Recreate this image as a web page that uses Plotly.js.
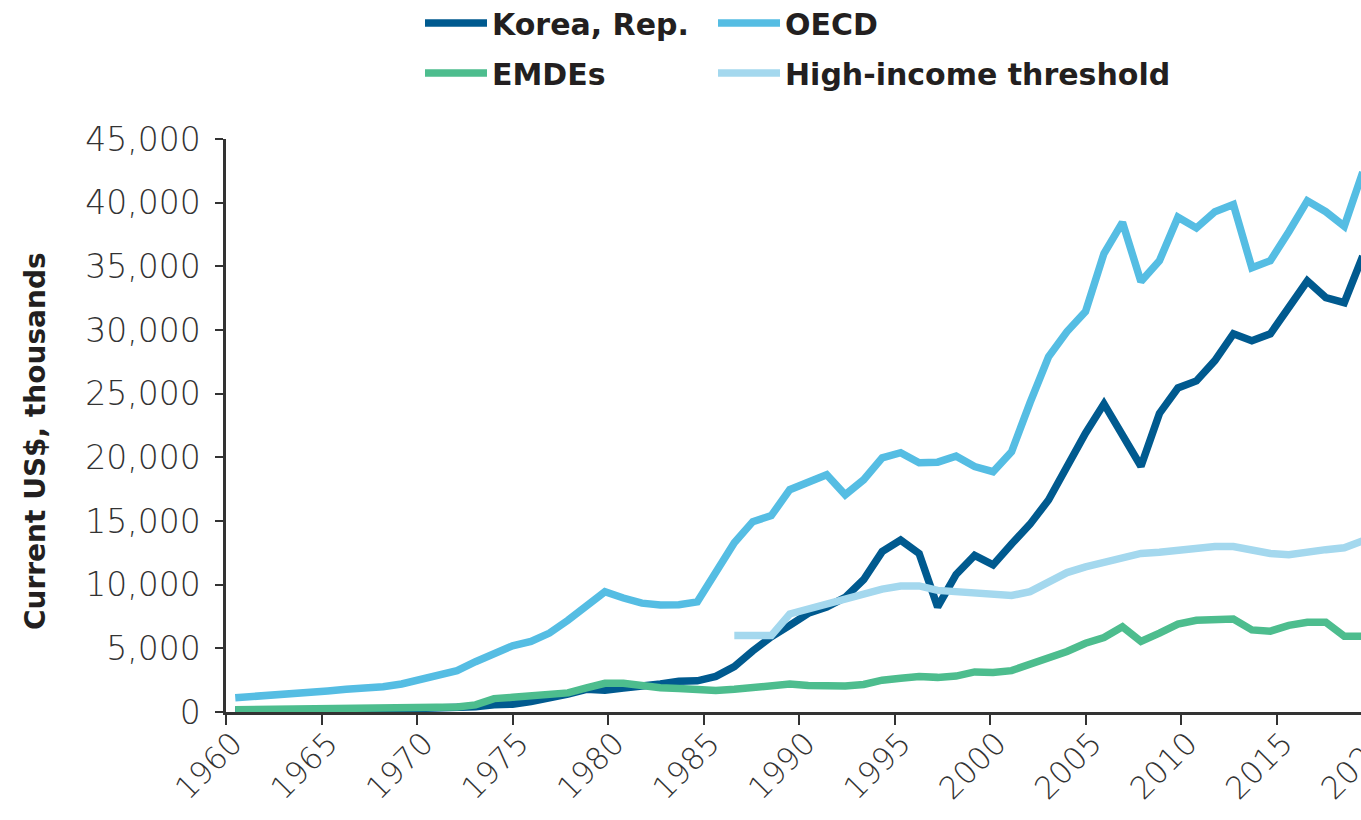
<!DOCTYPE html>
<html>
<head>
<meta charset="utf-8">
<script src="https://cdn.plot.ly/plotly-3.0.1.min.js"></script>
<style>
html,body{margin:0;padding:0;overflow:hidden;background:#ffffff;}
#chart{width:1400px;height:820px;}
</style>
</head>
<body>
<div id="chart"></div>
<script>
// ---- Data ----
const years = [1960,1961,1962,1963,1964,1965,1966,1967,1968,1969,
               1970,1971,1972,1973,1974,1975,1976,1977,1978,1979,
               1980,1981,1982,1983,1984,1985,1986,1987,1988,1989,
               1990,1991,1992,1993,1994,1995,1996,1997,1998,1999,
               2000,2001,2002,2003,2004,2005,2006,2007,2008,2009,
               2010,2011,2012,2013,2014,2015,2016,2017,2018,2019,
               2020,2021];

const korea = [158,94,106,146,124,108,133,161,198,243,
               279,301,323,406,563,615,830,1055,1405,1784,
               1715,1883,1992,2199,2413,2450,2800,3570,4800,5900,
               6800,7750,8250,9000,10400,12600,13500,12450,8250,10800,
               12300,11550,13200,14750,16650,19400,21900,24200,21600,19300,
               23450,25450,26000,27600,29700,29150,29700,31900,33850,32550,
               32150,35800];

const oecd = [1120,1200,1300,1400,1530,1650,1780,1870,1980,2200,
              2500,2800,3250,3950,4650,5200,5550,6200,7200,8350,
              9450,8950,8550,8400,8430,8650,10950,13300,14950,15420,
              17460,18090,18630,17060,18240,19960,20360,19570,19620,20090,
              19270,18870,20440,24300,27900,29880,31450,36010,38450,33800,
              35440,38860,38010,39290,39860,34880,35440,37720,40140,39290,
              38150,42400];

const emdes = [170,180,190,200,215,230,245,255,270,295,
               320,345,400,560,1050,1150,1250,1350,1500,1900,
               2250,2250,2050,1900,1850,1780,1680,1780,1900,1980,
               2200,2080,2030,2040,2160,2500,2650,2780,2720,2820,
               3150,3100,3250,3700,4250,4750,5400,5850,6700,5550,
               6200,6900,7200,7300,7300,6450,6350,6800,7050,7050,
               5950,5950];

const highIncome = [null,null,null,null,null,null,null,null,null,null,
                    null,null,null,null,null,null,null,null,null,null,
                    null,null,null,null,null,null,null,6000,6000,6000,
                    7700,8100,8550,8950,9250,9650,9900,9900,9550,9450,
                    9400,9300,9150,9450,10250,10950,11400,11800,12200,12450,
                    12550,12700,12850,13000,13000,12750,12450,12350,12600,12750,
                    12900,13450];

const tickLabels = ['1960','1965','1970','1975','1980','1985','1990',
                    '1995','2000','2005','2010','2015','2020'];

const seriesNames = ['Korea, Rep.','OECD','EMDEs','High-income threshold'];
const seriesColors = ['#005a8f','#55bde3','#4dbd8e','#a4d8ee'];
const yTitle = 'Current US$, thousands';

// ---- Axis geometry: category boundaries, labels spread evenly across them ----
const xStart = years[0] - 0.5;
const xEnd = years[years.length - 1] + 0.5;
const tickVals = tickLabels.map((t, i) => xStart + i * (xEnd - xStart) / (tickLabels.length - 1));

const W = 1400, H = 820;
const mL = 226, mR = 28, mT = 139, mB = 108;

const lineW = 7.5;
const seriesData = [korea, oecd, emdes, highIncome];
const legendIds = ['legend','legend2','legend3','legend4'];
// legend grid: two columns, two rows (pixel centres in the container)
const legendPos = [[420, 23], [713, 23], [420, 73], [713, 73]];

const traces = seriesData.map((vals, i) => ({
  type: 'scatter',
  mode: 'lines',
  x: years,
  y: vals,
  name: seriesNames[i],
  legend: legendIds[i],
  connectgaps: false,
  line: {color: seriesColors[i], width: lineW},
  hoverinfo: 'skip'
}));

const legendFont = {family: 'DejaVu Sans', size: 30, color: '#231f20', weight: 'bold'};

const layout = {
  width: W,
  height: H,
  margin: {l: mL, r: mR, t: mT, b: mB},
  paper_bgcolor: '#ffffff',
  plot_bgcolor: '#ffffff',
  showlegend: true,
  xaxis: {
    range: [xStart, xEnd],
    tickmode: 'array',
    tickvals: tickVals,
    ticktext: tickLabels,
    tickangle: -45,
    ticks: 'outside',
    ticklen: 10,
    tickwidth: 2,
    tickcolor: '#333333',
    showline: true,
    linecolor: '#333333',
    linewidth: 2.5,
    showgrid: false,
    zeroline: false,
    ticklabelshift: 7,
    ticklabelstandoff: -12,
    tickfont: {family: 'DejaVu Sans', size: 31, color: '#333333', weight: 300}
  },
  yaxis: {
    range: [0, 45000],
    tick0: 0,
    dtick: 5000,
    tickformat: ',d',
    ticks: 'outside',
    ticklen: 8,
    tickwidth: 2,
    tickcolor: '#333333',
    showline: true,
    linecolor: '#333333',
    linewidth: 2.5,
    showgrid: false,
    zeroline: false,
    ticklabelstandoff: 8,
    tickfont: {family: 'DejaVu Sans', size: 33, color: '#333333', weight: 300}
  },
  annotations: [{
    text: yTitle,
    xref: 'paper', yref: 'paper',
    x: (35 - mL) / (W - mL - mR),
    y: ((H - mB) - 441) / (H - mT - mB),
    xanchor: 'center', yanchor: 'middle',
    textangle: -90,
    showarrow: false,
    font: {family: 'DejaVu Sans', size: 28, color: '#231f20', weight: 'bold'}
  }]
};

legendIds.forEach((id, i) => {
  layout[id] = {
    orientation: 'h',
    xref: 'container', yref: 'container',
    x: legendPos[i][0] / W,
    y: 1 - legendPos[i][1] / H,
    xanchor: 'left', yanchor: 'middle',
    font: legendFont,
    itemwidth: 62,
    bgcolor: 'rgba(0,0,0,0)',
    borderwidth: 0
  };
});

Plotly.newPlot('chart', traces, layout, {displayModeBar: false, responsive: false});
</script>
</body>
</html>
